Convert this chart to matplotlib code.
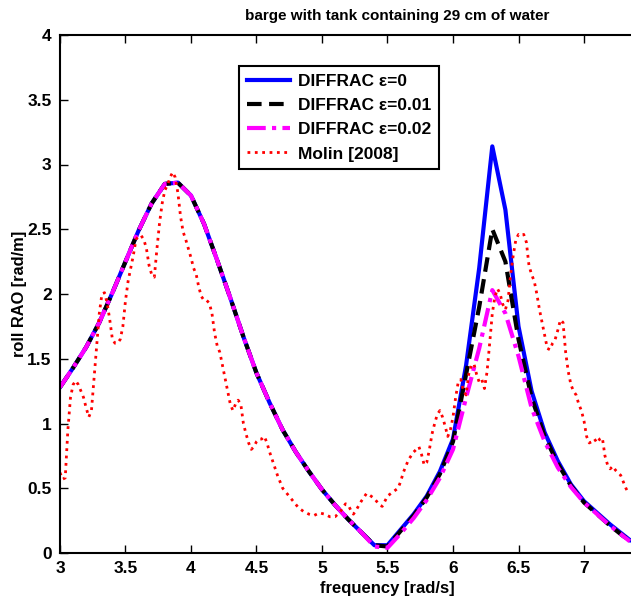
import numpy as np
import matplotlib
matplotlib.use('Agg')
import matplotlib.pyplot as plt
from matplotlib.ticker import FuncFormatter

plt.rcParams['font.family'] = ['Liberation Sans', 'DejaVu Sans']
plt.rcParams['font.weight'] = 'bold'

# DIFFRAC computations (0.1 rad/s grid)
freq = [3.0, 3.1, 3.2, 3.3, 3.4, 3.5, 3.6, 3.7, 3.8, 3.9,
        4.0, 4.1, 4.2, 4.3, 4.4, 4.5, 4.6, 4.7, 4.8, 4.9,
        5.0, 5.1, 5.2, 5.3, 5.4, 5.5, 5.6, 5.7, 5.8, 5.9,
        6.0, 6.1, 6.2, 6.3, 6.4, 6.5, 6.6, 6.7, 6.8, 6.9,
        7.0, 7.1, 7.2, 7.3, 7.35]
rao_eps0 = [1.28, 1.43, 1.59, 1.78, 2.01, 2.25, 2.49, 2.70, 2.85, 2.86,
            2.76, 2.54, 2.26, 1.97, 1.67, 1.39, 1.16, 0.95, 0.78, 0.63,
            0.49, 0.37, 0.26, 0.16, 0.06, 0.06, 0.18, 0.30, 0.44, 0.63,
            0.88, 1.45, 2.20, 3.14, 2.65, 1.75, 1.25, 0.93, 0.71, 0.53,
            0.40, 0.31, 0.22, 0.14, 0.10]
rao_eps001 = [1.28, 1.43, 1.59, 1.78, 2.01, 2.25, 2.49, 2.70, 2.85, 2.86,
              2.76, 2.54, 2.26, 1.97, 1.67, 1.39, 1.16, 0.95, 0.78, 0.63,
              0.49, 0.37, 0.26, 0.16, 0.06, 0.05, 0.17, 0.29, 0.43, 0.61,
              0.86, 1.38, 1.90, 2.50, 2.25, 1.65, 1.20, 0.90, 0.69, 0.52,
              0.39, 0.30, 0.21, 0.13, 0.10]
rao_eps002 = [1.28, 1.43, 1.59, 1.78, 2.01, 2.25, 2.49, 2.70, 2.85, 2.86,
              2.76, 2.54, 2.26, 1.97, 1.67, 1.39, 1.16, 0.95, 0.78, 0.63,
              0.49, 0.37, 0.26, 0.16, 0.05, 0.04, 0.15, 0.27, 0.41, 0.58,
              0.80, 1.20, 1.58, 2.03, 1.85, 1.52, 1.12, 0.86, 0.66, 0.51,
              0.39, 0.30, 0.21, 0.13, 0.09]

# Molin [2008] measurements
molin_freq = [3.00, 3.02, 3.04, 3.06, 3.08, 3.10, 3.12, 3.14, 3.16, 3.18,
              3.20, 3.22, 3.24, 3.26, 3.28, 3.30, 3.32, 3.34, 3.36, 3.38,
              3.40, 3.42, 3.44, 3.46, 3.48, 3.50, 3.52, 3.54, 3.56, 3.58,
              3.60, 3.62, 3.64, 3.66, 3.68, 3.70, 3.72, 3.74, 3.76, 3.78,
              3.80, 3.82, 3.84, 3.86, 3.88, 3.90, 3.92, 3.94, 3.96, 3.98,
              4.00, 4.02, 4.04, 4.06, 4.08, 4.10, 4.12, 4.14, 4.16, 4.18,
              4.20, 4.22, 4.24, 4.26, 4.28, 4.30, 4.32, 4.34, 4.36, 4.38,
              4.40, 4.42, 4.44, 4.46, 4.48, 4.50, 4.52, 4.54, 4.56, 4.58,
              4.60, 4.62, 4.64, 4.66, 4.68, 4.70, 4.74, 4.78, 4.82, 4.86,
              4.90, 4.94, 4.98, 5.02, 5.06, 5.10, 5.14, 5.18, 5.20, 5.22,
              5.24, 5.26, 5.30, 5.34, 5.36, 5.40, 5.44, 5.46, 5.48, 5.50,
              5.54, 5.58, 5.60, 5.62, 5.66, 5.70, 5.74, 5.76, 5.78, 5.80,
              5.82, 5.84, 5.86, 5.88, 5.90, 5.92, 5.94, 5.96, 5.98, 6.00,
              6.02, 6.04, 6.06, 6.08, 6.10, 6.12, 6.14, 6.16, 6.18, 6.20,
              6.22, 6.24, 6.26, 6.28, 6.30, 6.32, 6.34, 6.36, 6.38, 6.40,
              6.42, 6.44, 6.46, 6.48, 6.50, 6.52, 6.54, 6.56, 6.58, 6.60,
              6.62, 6.64, 6.66, 6.68, 6.70, 6.72, 6.74, 6.76, 6.78, 6.80,
              6.82, 6.84, 6.86, 6.88, 6.90, 6.92, 6.94, 6.96, 6.98, 7.00,
              7.02, 7.04, 7.06, 7.08, 7.10, 7.12, 7.14, 7.16, 7.18, 7.20,
              7.22, 7.24, 7.26, 7.28, 7.30, 7.32, 7.34]
molin_rao = [0.62, 0.57, 0.58, 0.95, 1.20, 1.30, 1.33, 1.30, 1.25, 1.20,
             1.12, 1.05, 1.10, 1.35, 1.60, 1.85, 2.00, 2.01, 1.93, 1.80,
             1.65, 1.62, 1.62, 1.65, 1.75, 1.95, 2.10, 2.20, 2.30, 2.42,
             2.45, 2.45, 2.42, 2.35, 2.22, 2.15, 2.13, 2.35, 2.55, 2.70,
             2.80, 2.84, 2.90, 2.94, 2.90, 2.78, 2.60, 2.48, 2.42, 2.35,
             2.28, 2.20, 2.15, 2.05, 1.98, 1.95, 1.95, 1.93, 1.85, 1.70,
             1.60, 1.55, 1.45, 1.35, 1.25, 1.15, 1.10, 1.15, 1.18, 1.15,
             1.00, 0.92, 0.85, 0.80, 0.82, 0.86, 0.88, 0.88, 0.90, 0.85,
             0.78, 0.72, 0.66, 0.60, 0.55, 0.50, 0.45, 0.40, 0.35, 0.32,
             0.30, 0.29, 0.31, 0.30, 0.28, 0.28, 0.32, 0.38, 0.37, 0.33,
             0.30, 0.33, 0.40, 0.46, 0.45, 0.42, 0.37, 0.36, 0.40, 0.44,
             0.47, 0.50, 0.55, 0.62, 0.72, 0.78, 0.82, 0.76, 0.68, 0.70,
             0.80, 0.92, 1.00, 1.07, 1.10, 1.05, 0.98, 0.90, 0.95, 1.05,
             1.20, 1.32, 1.34, 1.25, 1.22, 1.38, 1.45, 1.46, 1.38, 1.32,
             1.34, 1.27, 1.40, 1.62, 1.85, 1.98, 2.04, 2.00, 1.92, 1.88,
             1.95, 2.15, 2.30, 2.42, 2.46, 2.45, 2.46, 2.40, 2.22, 2.15,
             2.10, 2.00, 1.88, 1.78, 1.68, 1.58, 1.57, 1.62, 1.65, 1.72,
             1.80, 1.78, 1.55, 1.40, 1.30, 1.25, 1.22, 1.15, 1.10, 1.02,
             0.90, 0.85, 0.86, 0.88, 0.85, 0.88, 0.89, 0.75, 0.68, 0.65,
             0.67, 0.64, 0.62, 0.60, 0.55, 0.50, 0.46]

xticks = [3, 3.5, 4, 4.5, 5, 5.5, 6, 6.5, 7]
yticks = [0, 0.5, 1, 1.5, 2, 2.5, 3, 3.5, 4]

W, H = 631, 601
fig = plt.figure(figsize=(W / 100, H / 100), dpi=100)
# axes box runs past the right edge of the picture (original was cropped)
ax = fig.add_axes([60 / W, (H - 553) / H, 655 / W, 518 / H])

ax.plot(freq, rao_eps0, color='#0000FF', lw=3.0, label='DIFFRAC \u03b5=0')
ax.plot(freq, rao_eps001, color='black', lw=3.0, ls='--', dashes=(3.5, 1.8),
        label='DIFFRAC \u03b5=0.01')
ax.plot(freq, rao_eps002, color='#FF00FF', lw=3.0, ls='-.', dashes=(4.5, 1.5, 1, 1.5),
        label='DIFFRAC \u03b5=0.02')
ax.plot(molin_freq, molin_rao, color='#FF0000', lw=2.0, ls=':', label='Molin [2008]')

ax.set_xlim(3, 8)
ax.set_ylim(0, 4)
ax.set_xticks(xticks)
ax.set_yticks(yticks)
fmt = FuncFormatter(lambda v, p: '%g' % v)
ax.xaxis.set_major_formatter(fmt)
ax.yaxis.set_major_formatter(fmt)
ax.tick_params(direction='in', length=6, width=1, top=True, right=True,
               labelsize=12.5, pad=6)
for lab in ax.get_xticklabels() + ax.get_yticklabels():
    lab.set_fontweight('bold')
for s in ax.spines.values():
    s.set_linewidth(1.5)

ax.set_xlabel('frequency [rad/s]', fontsize=12, fontweight='bold')
ax.xaxis.set_label_coords(0.5, -0.054)
ax.set_ylabel('roll RAO [rad/m]', fontsize=11.8, fontweight='bold')
ax.yaxis.set_label_coords(-0.05, 0.5)

fig.text(397 / W, 1 - 16 / H, 'barge with tank containing 29 cm of water',
         ha='center', va='center', fontsize=11, fontweight='bold')

leg = ax.legend(loc='upper left', bbox_to_anchor=((239 - 60) / 655, (553 - 66) / 518),
                borderaxespad=0, fancybox=False, framealpha=1, edgecolor='black',
                handlelength=2.5, handletextpad=0.45, labelspacing=0.52,
                borderpad=0.45, prop={'size': 12.5, 'weight': 'bold'})
leg.get_frame().set_linewidth(1.5)

fig.savefig('out.png', dpi=100)
